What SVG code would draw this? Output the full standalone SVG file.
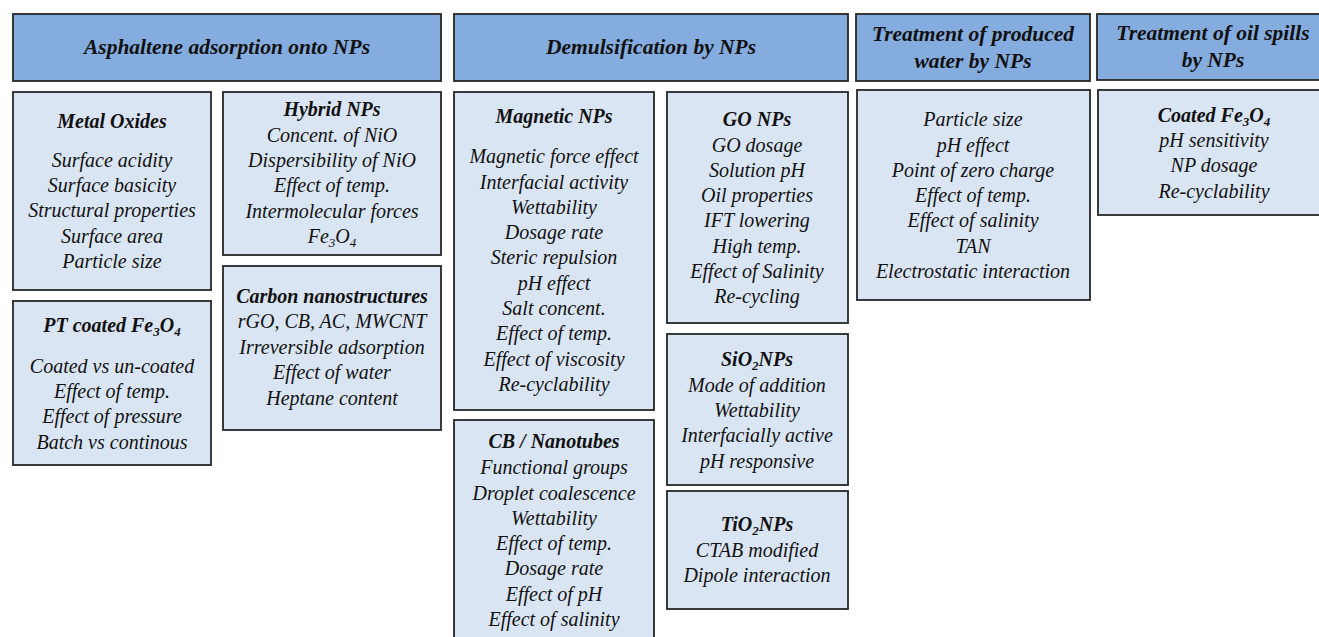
<svg xmlns="http://www.w3.org/2000/svg" width="1319" height="637" viewBox="0 0 1319 637">
<style>
.hd{fill:#85ACDE;stroke:#262626;stroke-width:1.8}
.bx{fill:#DAE5F3;stroke:#262626;stroke-width:1.8}
text{font-family:"Liberation Serif","Times New Roman",serif;font-style:italic;font-size:20px;fill:#111;text-anchor:middle}
.t{font-weight:bold}
.h{font-weight:bold;font-size:21.5px}
.s{font-size:13px}
</style>
<rect width="1319" height="637" fill="#fff"/>
<g id="h1"><rect class="hd" x="13" y="14" width="428" height="67"/><text class="h" x="227" y="54">Asphaltene adsorption onto NPs</text></g>
<g id="h2"><rect class="hd" x="454" y="14" width="394" height="67"/><text class="h" x="651" y="54">Demulsification by NPs</text></g>
<g id="h3"><rect class="hd" x="856" y="14" width="234" height="67"/><text class="h" x="973" y="41">Treatment of produced</text><text class="h" x="973" y="68">water by NPs</text></g>
<g id="h4"><rect class="hd" x="1097" y="14" width="230" height="66"/><text class="h" x="1213" y="40">Treatment of oil spills</text><text class="h" x="1213" y="67">by NPs</text></g>

<g id="metal"><rect class="bx" x="13" y="92" width="198" height="198"/>
<text class="t" x="112" y="128">Metal Oxides</text>
<text x="112" y="167">Surface acidity</text><text x="112" y="192">Surface basicity</text><text x="112" y="217">Structural properties</text><text x="112" y="243">Surface area</text><text x="112" y="268">Particle size</text></g>

<g id="hybrid"><rect class="bx" x="223" y="92" width="218" height="163"/>
<text class="t" x="332" y="116">Hybrid NPs</text>
<text x="332" y="142">Concent. of NiO</text><text x="332" y="167">Dispersibility of NiO</text><text x="332" y="192">Effect of temp.</text><text x="332" y="218">Intermolecular forces</text><text x="332" y="243">Fe<tspan class="s" dy="4">3</tspan><tspan dy="-4">O</tspan><tspan class="s" dy="4">4</tspan></text></g>

<g id="pt"><rect class="bx" x="13" y="301" width="198" height="164"/>
<text class="t" x="112" y="332">PT coated Fe<tspan class="s" dy="4">3</tspan><tspan dy="-4">O</tspan><tspan class="s" dy="4">4</tspan></text>
<text x="112" y="373">Coated vs un-coated</text><text x="112" y="398">Effect of temp.</text><text x="112" y="423">Effect of pressure</text><text x="112" y="449">Batch vs continous</text></g>

<g id="carbon"><rect class="bx" x="223" y="266" width="218" height="164"/>
<text class="t" x="332" y="303">Carbon nanostructures</text>
<text x="332" y="328">rGO, CB, AC, MWCNT</text><text x="332" y="354">Irreversible adsorption</text><text x="332" y="379">Effect of  water</text><text x="332" y="405">Heptane content</text></g>

<g id="magnetic"><rect class="bx" x="454" y="92" width="200" height="318"/>
<text class="t" x="554" y="123">Magnetic  NPs</text>
<text x="554" y="163">Magnetic force effect</text><text x="554" y="189">Interfacial activity</text><text x="554" y="214">Wettability</text><text x="554" y="239">Dosage rate</text><text x="554" y="264">Steric repulsion</text><text x="554" y="290">pH effect</text><text x="554" y="315">Salt concent.</text><text x="554" y="340">Effect of temp.</text><text x="554" y="366">Effect of viscosity</text><text x="554" y="391">Re-cyclability</text></g>

<g id="cb"><rect class="bx" x="454" y="420" width="200" height="230"/>
<text class="t" x="554" y="448">CB / Nanotubes</text>
<text x="554" y="474">Functional groups</text><text x="554" y="500">Droplet coalescence</text><text x="554" y="525">Wettability</text><text x="554" y="550">Effect of temp.</text><text x="554" y="575">Dosage rate</text><text x="554" y="601">Effect of pH</text><text x="554" y="626">Effect of salinity</text></g>

<g id="go"><rect class="bx" x="667" y="92" width="181" height="231"/>
<text class="t" x="757" y="126">GO NPs</text>
<text x="757" y="152">GO dosage</text><text x="757" y="177">Solution pH</text><text x="757" y="202">Oil properties</text><text x="757" y="227">IFT lowering</text><text x="757" y="253">High temp.</text><text x="757" y="278">Effect of Salinity</text><text x="757" y="303">Re-cycling</text></g>

<g id="sio2"><rect class="bx" x="667" y="334" width="181" height="151"/>
<text class="t" x="757" y="366">SiO<tspan class="s" dy="4">2</tspan><tspan dy="-4">NPs</tspan></text>
<text x="757" y="392">Mode of addition</text><text x="757" y="417">Wettability</text><text x="757" y="442">Interfacially active</text><text x="757" y="468">pH responsive</text></g>

<g id="tio2"><rect class="bx" x="667" y="491" width="181" height="118"/>
<text class="t" x="757" y="531">TiO<tspan class="s" dy="4">2</tspan><tspan dy="-4">NPs</tspan></text>
<text x="757" y="557">CTAB modified</text><text x="757" y="582">Dipole interaction</text></g>

<g id="water"><rect class="bx" x="857" y="90" width="233" height="210"/>
<text x="973" y="126">Particle size</text><text x="973" y="152">pH effect</text><text x="973" y="177">Point of zero charge</text><text x="973" y="202">Effect of temp.</text><text x="973" y="227">Effect of salinity</text><text x="973" y="253">TAN</text><text x="973" y="278">Electrostatic interaction</text></g>

<g id="spills"><rect class="bx" x="1098" y="90" width="230" height="125"/>
<text class="t" x="1214" y="122">Coated Fe<tspan class="s" dy="4">3</tspan><tspan dy="-4">O</tspan><tspan class="s" dy="4">4</tspan></text>
<text x="1214" y="147">pH sensitivity</text><text x="1214" y="172">NP dosage</text><text x="1214" y="198">Re-cyclability</text></g>

<g id="connectors"></g>
</svg>
